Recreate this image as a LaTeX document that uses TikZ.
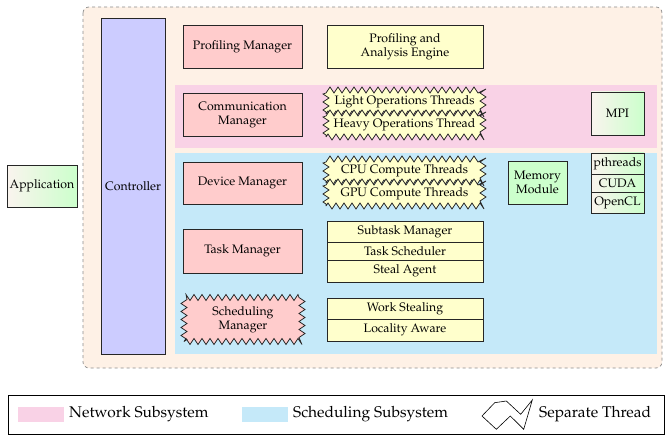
\documentclass[tikz,border=0pt]{standalone}
\usepackage[T1]{fontenc}
\usepackage{mathpazo}
\usetikzlibrary{decorations.pathmorphing}

\definecolor{peach}{RGB}{254,241,230}
\definecolor{netpink}{RGB}{249,210,230}
\definecolor{schedblue}{RGB}{197,233,249}
\definecolor{ctrlblue}{RGB}{204,204,255}
\definecolor{mgrred}{RGB}{255,204,204}
\definecolor{engyellow}{RGB}{255,255,204}
\definecolor{libgreen}{RGB}{204,255,204}
\definecolor{libwhite}{RGB}{250,244,238}

\tikzset{
  box/.style={draw=black!85, line width=0.7pt, align=center, inner sep=0pt,
    font=\fontsize{12.3}{14}\selectfont},
  mgr/.style={box, fill=mgrred, minimum width=119pt, minimum height=43pt},
  eng/.style={box, fill=engyellow, minimum width=156pt},
  thread/.style={box, fill=engyellow, minimum width=157pt, minimum height=24pt,
    decorate, decoration={zigzag, segment length=8pt, amplitude=3pt}},
  lib/.style={box, left color=libwhite, right color=libgreen, minimum width=53pt},
  legendtext/.style={anchor=west, inner sep=0pt, font=\fontsize{15.5}{18}\selectfont}
}

\begin{document}
\begin{tikzpicture}[x=1pt, y=-1pt]
\useasboundingbox (0,0) rectangle (665,436);

% runtime frame
\draw[fill=peach, draw=black!45, dashed, line width=0.7pt, rounded corners=6pt]
  (83,7) rectangle (662,368);

% subsystem bands
\fill[netpink] (175,85) rectangle (657,148);
\fill[schedblue] (175,153) rectangle (657,354);

% application and controller
\node[box, left color=libwhite, right color=libgreen, minimum width=70pt,
  minimum height=42pt] (app) at (42,186) {Application};
\node[box, fill=ctrlblue, minimum width=64pt, minimum height=336pt]
  (ctrl) at (133,186) {Controller};

% profiling
\node[mgr] (prof) at (242.5,46.5) {Profiling Manager};
\node[eng, minimum height=43pt] (engine) at (405,46.5) {Profiling and\\Analysis Engine};

% network subsystem
\node[mgr] (comm) at (242.5,114.5) {Communication\\Manager};
\node[thread] (light) at (404.5,102) {Light Operations Threads};
\node[thread] (heavy) at (404.5,125) {Heavy Operations Thread};
\node[lib, minimum height=43pt] (mpi) at (617.5,113.5) {MPI};

% device management
\node[mgr, minimum height=42pt] (dev) at (242.5,183) {Device Manager};
\node[thread] (cpu) at (404.5,171) {CPU Compute Threads};
\node[thread] (gpu) at (404.5,194) {GPU Compute Threads};
\node[box, fill=libgreen, minimum width=59pt, minimum height=43pt]
  (mem) at (537.5,182.5) {Memory\\Module};
\node[lib, minimum height=21pt] (pth) at (617.5,163.5) {pthreads};
\node[lib, minimum height=18pt] (cuda) at (617.5,183) {CUDA};
\node[lib, minimum height=21pt] (ocl) at (617.5,202.5) {OpenCL};

% task management
\node[mgr, minimum height=44pt] (task) at (242.5,251) {Task Manager};
\node[eng, minimum height=21pt] (subtask) at (405,231.5) {Subtask Manager};
\node[eng, minimum height=18pt] (tsched) at (405,251) {Task Scheduler};
\node[eng, minimum height=22pt] (steal) at (405,271) {Steal Agent};

% scheduling
\node[box, fill=mgrred, minimum width=118pt, minimum height=44pt,
  decorate, decoration={zigzag, segment length=8pt, amplitude=3pt}]
  (smgr) at (243,319.5) {Scheduling\\Manager};
\node[eng, minimum height=21pt] (ws) at (405,308.5) {Work Stealing};
\node[eng, minimum height=22pt] (la) at (405,330) {Locality Aware};

% legend
\draw[line width=0.8pt] (8,395) rectangle (664,434);
\fill[netpink] (18,407) rectangle (64,422);
\node[legendtext] (lnet) at (69,414.5) {Network Subsystem};
\fill[schedblue] (242,407) rectangle (288,422);
\node[legendtext] (lsched) at (293,414.5) {Scheduling Subsystem};
\draw[line width=0.6pt] (482,416) -- (494.7,402.7) -- (506.3,401) -- (520.7,414.3)
  -- (532.3,400) -- (523.7,429.3) -- (510.3,416) -- (496.3,429.3) -- cycle;
\node[legendtext] (lthr) at (539,414.5) {Separate Thread};
\end{tikzpicture}
\end{document}
